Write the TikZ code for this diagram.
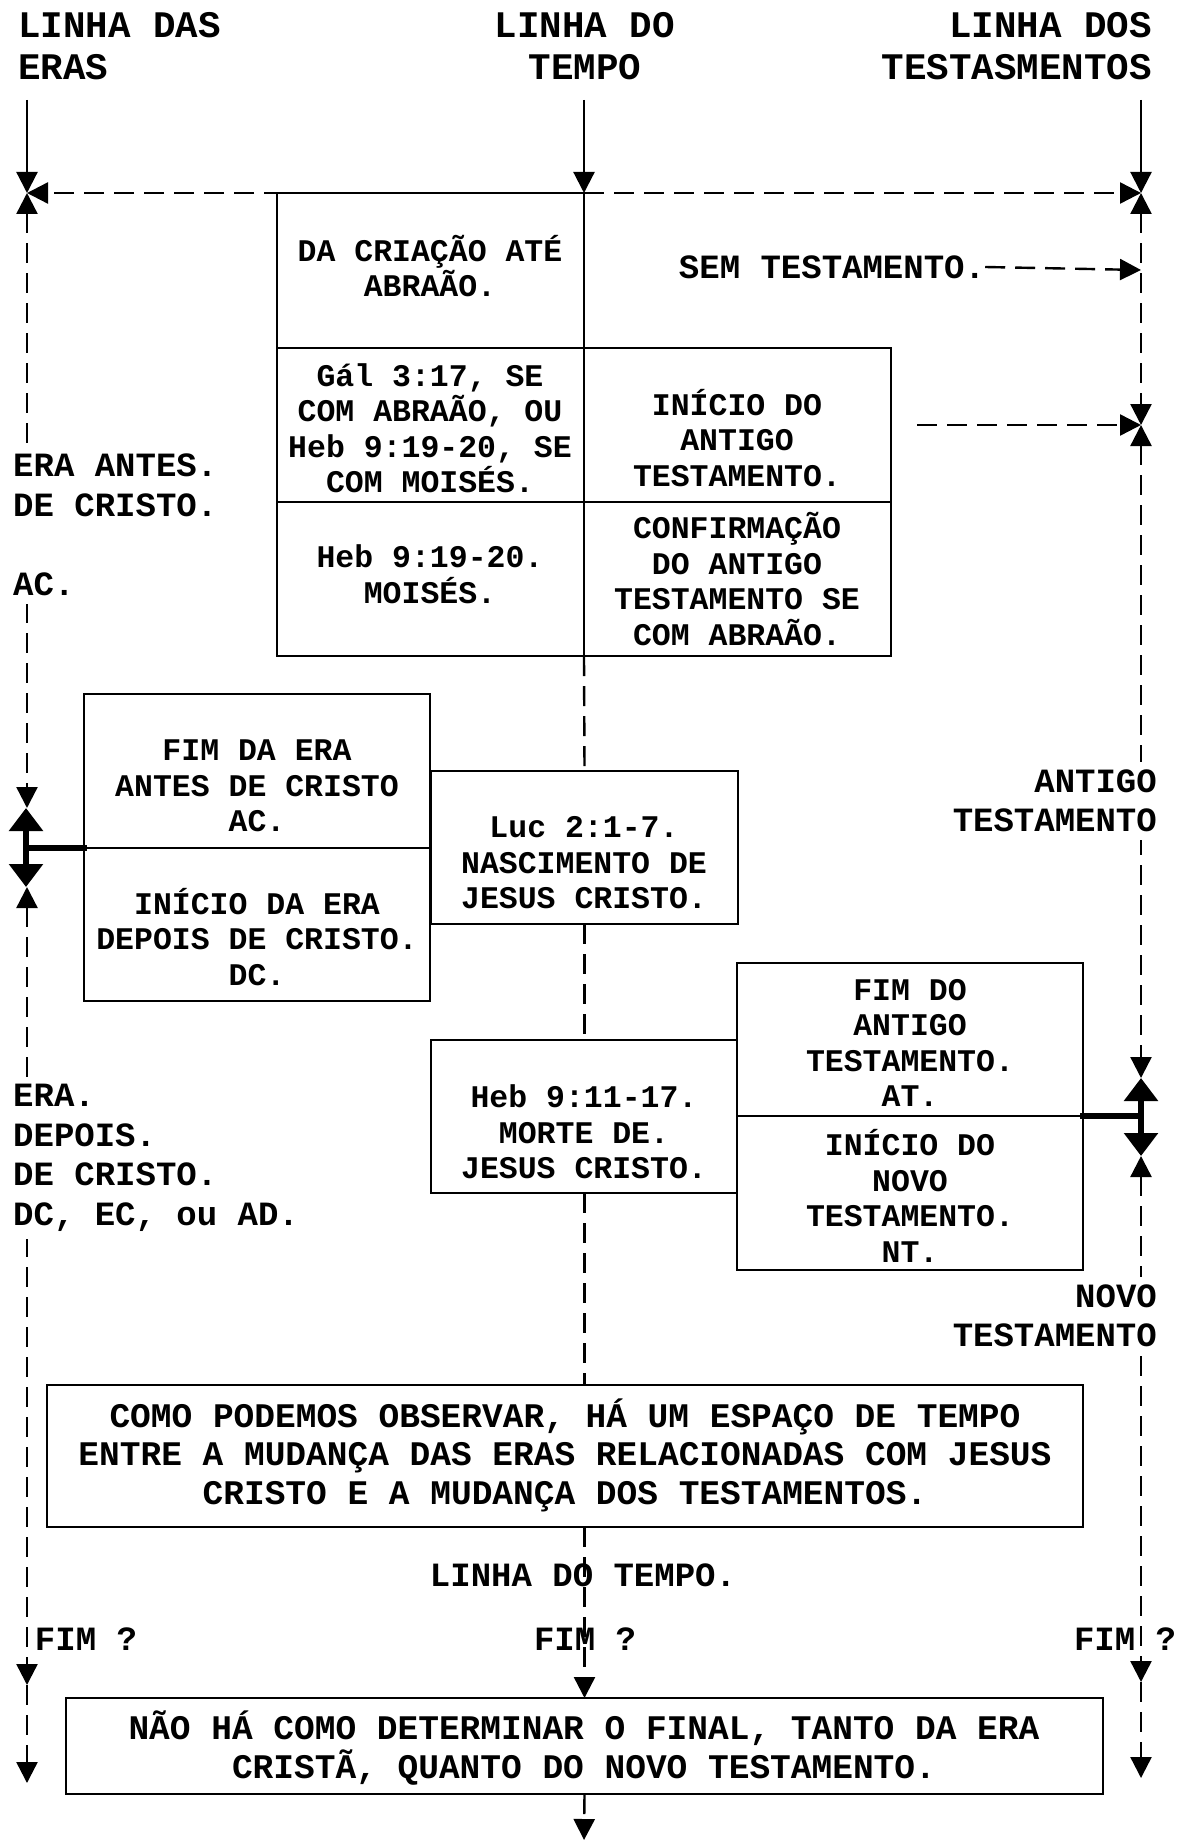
\documentclass[tikz,border=0pt]{standalone}
\usepackage{fontspec}
\setmainfont{Liberation Mono}
\usetikzlibrary{arrows.meta}
\tikzset{
  Sm/.tip={Triangle[length=21pt,width=21pt]},
  Bg/.tip={Triangle[length=23pt,width=33pt]},
  box/.style={draw,line width=1.8pt,fill=white,inner sep=0pt,outer sep=0pt,anchor=north west},
  txt/.style={font=\fontsize{31.5}{35.5}\selectfont\bfseries,align=center,inner sep=0pt},
  lbl/.style={font=\fontsize{34}{39.5}\selectfont\bfseries,inner sep=0pt},
  note/.style={font=\fontsize{34.5}{38.5}\selectfont\bfseries,align=center,inner sep=0pt},
  hdr/.style={font=\fontsize{37.5}{42.5}\selectfont\bfseries,inner sep=0pt},
  dl/.style={line width=2.4pt,dash pattern=on 20pt off 10pt},
  sl/.style={line width=2.2pt},
  tk/.style={line width=6pt},
  wl/.style={lbl,fill=white,inner ysep=8pt,inner xsep=0pt}
}
\begin{document}
\begin{tikzpicture}[x=1pt,y=-1pt]
\fill[white] (0,0) rectangle (1178,1843);
\useasboundingbox (0,0) rectangle (1178,1843);

% headers
\node[hdr,align=left,anchor=west] (hL) at (18,46) {LINHA DAS\\ERAS};
\node[hdr,align=center] (hC) at (585,46) {LINHA DO\\TEMPO};
\node[hdr,align=right,anchor=east] (hR) at (1152,46) {LINHA DOS\\TESTASMENTOS};

% boxes
\node[box,minimum width=307pt,minimum height=155pt] (c11) at (277,193) {};
\node[box,minimum width=307pt,minimum height=154pt] (c21) at (277,348) {};
\node[box,minimum width=307pt,minimum height=154pt] (c22) at (584,348) {};
\node[box,minimum width=307pt,minimum height=154pt] (c31) at (277,502) {};
\node[box,minimum width=307pt,minimum height=154pt] (c32) at (584,502) {};
\node[box,minimum width=346pt,minimum height=154pt] (b2a) at (84,694) {};
\node[box,minimum width=346pt,minimum height=153pt] (b2b) at (84,848) {};
\node[box,minimum width=307pt,minimum height=153pt] (luc) at (431,771) {};
\node[box,minimum width=307pt,minimum height=153pt] (heb) at (431,1040) {};
\node[box,minimum width=346pt,minimum height=153pt] (b3a) at (737,963) {};
\node[box,minimum width=346pt,minimum height=154pt] (b3b) at (737,1116) {};
\node[box,minimum width=1036pt,minimum height=142pt] (nb) at (47,1385) {};
\node[box,minimum width=1037pt,minimum height=96pt] (fin) at (66,1698) {};

% box texts
\node[txt] (t11) at (430,266) {DA CRIAÇÃO ATÉ\\ABRAÃO.};
\node[txt] (t21) at (430,428) {Gál 3:17, SE\\COM ABRAÃO, OU\\Heb 9:19-20, SE\\COM MOISÉS.};
\node[txt] (t22) at (737,438) {INÍCIO DO\\ANTIGO\\TESTAMENTO.};
\node[txt] (t31) at (430,574) {Heb 9:19-20.\\MOISÉS.};
\node[txt] (t32) at (737,579) {CONFIRMAÇÃO\\DO ANTIGO\\TESTAMENTO SE\\COM ABRAÃO.};
\node[txt] (t2a) at (257,786) {FIM DA ERA\\ANTES DE CRISTO\\AC.};
\node[txt] (t2b) at (257,937) {INÍCIO DA ERA\\DEPOIS DE CRISTO.\\DC.};
\node[txt] (tluc) at (584,863) {Luc 2:1-7.\\NASCIMENTO DE\\JESUS CRISTO.};
\node[txt] (theb) at (584,1132) {Heb 9:11-17.\\MORTE DE.\\JESUS CRISTO.};
\node[txt] (t3a) at (910,1043) {FIM DO\\ANTIGO\\TESTAMENTO.\\AT.};
\node[txt] (t3b) at (910,1196) {INÍCIO DO\\NOVO\\TESTAMENTO.\\NT.};
\node[note] (tnote) at (565,1455) {COMO PODEMOS OBSERVAR, HÁ UM ESPAÇO DE TEMPO\\ENTRE A MUDANÇA DAS ERAS RELACIONADAS COM JESUS\\CRISTO E A MUDANÇA DOS TESTAMENTOS.};
\node[note] (tfin) at (584,1748) {NÃO HÁ COMO DETERMINAR O FINAL, TANTO DA ERA\\CRISTÃ, QUANTO DO NOVO TESTAMENTO.};

% free labels
\node[lbl] (semt) at (832,267) {SEM TESTAMENTO.};
\node[lbl] (ltempo) at (583,1575) {LINHA DO TEMPO.};
\node[lbl] (fimL) at (86,1639) {FIM ?};
\node[lbl] (fimC) at (585,1639) {FIM ?};
\node[lbl] (fimR) at (1125,1639) {FIM ?};

% coordinates
\coordinate (tL) at (27,100);
\coordinate (tC) at (584,100);
\coordinate (tR) at (1141,100);
\coordinate (jL) at (27,193);
\coordinate (jC) at (584,193);
\coordinate (jR) at (1141,193);
\coordinate (aL) at (27,808);
\coordinate (kL) at (26,848);
\coordinate (bL) at (27,887);
\coordinate (fL1) at (27,1685);
\coordinate (fL2) at (27,1783);
\coordinate (sR) at (1141,270);
\coordinate (iR0) at (917,425);
\coordinate (iR) at (1141,425);
\coordinate (aR) at (1141,1078);
\coordinate (kR) at (1141,1116);
\coordinate (bR) at (1141,1156);
\coordinate (fR1) at (1141,1682);
\coordinate (fR2) at (1141,1778);
\coordinate (endC) at (584,1840);

% top solid arrows
\draw[sl,-Sm] (tL) -- (jL);
\draw[sl,-Sm] (tC) -- (jC);
\draw[sl,-Sm] (tR) -- (jR);
% horizontal top
\draw[dl,-Sm] (jC) -- (jL);
\draw[dl,-Sm] (jC) -- (jR);
% left line
\draw[dl,Sm-Sm] (jL) -- (aL);
\draw[dl,Sm-Sm] (bL) -- (fL1);
\draw[dl,-Sm] (fL1) -- (fL2);
% right line
\draw[dl,Sm-Sm] (jR) -- (iR);
\draw[dl,Sm-Sm] (iR) -- (aR);
\draw[dl,Sm-Sm] (bR) -- (fR1);
\draw[dl,-Sm] (fR1) -- (fR2);
% side arrows to right line
\draw[dl,-Sm] (semt.east) -- (sR);
\draw[dl,-Sm] (iR0) -- (iR);
% thick connectors
\draw[tk,line cap=rect] (b2a.south west) -- (kL);
\draw[tk,-Bg] (kL) -- (aL -| kL);
\draw[tk,-Bg] (kL) -- (bL -| kL);
\draw[tk,line cap=rect] (b3a.south east) -- (kR);
\draw[tk,-Bg] (kR) -- (aR);
\draw[tk,-Bg] (kR) -- (bR);
% centre line
\draw[dl] (c31.south east) -- (luc.north);
\draw[dl] (luc.south) -- (heb.north);
\draw[dl] (heb.south) -- (heb.south |- nb.north);
\draw[dl,-Sm] (heb.south |- nb.south) -- (heb.south |- fin.north);
\draw[dl,-Sm] (heb.south |- fin.south) -- (endC);

% labels over the lines
\node[wl,align=left,anchor=west] (eraA) at (13,525) {ERA ANTES.\\DE CRISTO.\\[39.5pt]AC.};
\node[wl,align=left,anchor=west] (eraD) at (13,1158) {ERA.\\DEPOIS.\\DE CRISTO.\\DC, EC, ou AD.};
\node[wl,align=right,anchor=east] (antT) at (1157,801) {ANTIGO\\TESTAMENTO};
\node[wl,align=right,anchor=east] (novT) at (1157,1316) {NOVO\\TESTAMENTO};
\end{tikzpicture}
\end{document}
